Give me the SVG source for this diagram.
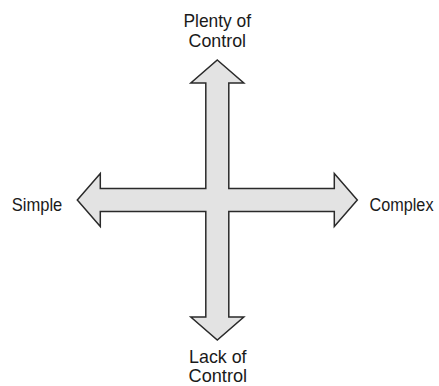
<svg xmlns="http://www.w3.org/2000/svg" width="439" height="386" viewBox="0 0 439 386">
<style>
.lbl{font-family:"Liberation Sans",Arial,sans-serif;font-size:19px;fill:#1a1a1a}
.arrow{fill:#e3e3e3;stroke:#2a2a2a;stroke-width:1.5;stroke-linejoin:miter}
</style>
<rect width="439" height="386" fill="#ffffff"/>
<g id="connectors">
<polygon class="arrow" points="217.3,60 243.8,83 228.8,83 228.8,188.5 334.3,188.5 334.3,173.5 357.3,200 334.3,226.5 334.3,211.5 228.8,211.5 228.8,317 243.8,317 217.3,340 190.8,317 205.8,317 205.8,211.5 100.3,211.5 100.3,226.5 77.3,200 100.3,173.5 100.3,188.5 205.8,188.5 205.8,83 190.8,83"/>
</g>
<g id="node-top">
<text class="lbl" x="217.3" y="26.7" text-anchor="middle" textLength="67.7" lengthAdjust="spacingAndGlyphs">Plenty of</text>
<text class="lbl" x="217.3" y="47.3" text-anchor="middle" textLength="57.5" lengthAdjust="spacingAndGlyphs">Control</text>
</g>
<g id="node-bottom">
<text class="lbl" x="217.8" y="362.5" text-anchor="middle" textLength="57.5" lengthAdjust="spacingAndGlyphs">Lack of</text>
<text class="lbl" x="217.8" y="381.5" text-anchor="middle" textLength="58.5" lengthAdjust="spacingAndGlyphs">Control</text>
</g>
<g id="node-left">
<text class="lbl" x="11.7" y="211" textLength="50.6" lengthAdjust="spacingAndGlyphs">Simple</text>
</g>
<g id="node-right">
<text class="lbl" transform="translate(369.5,211) scale(0.854,1)">Complex</text>
</g>
</svg>
